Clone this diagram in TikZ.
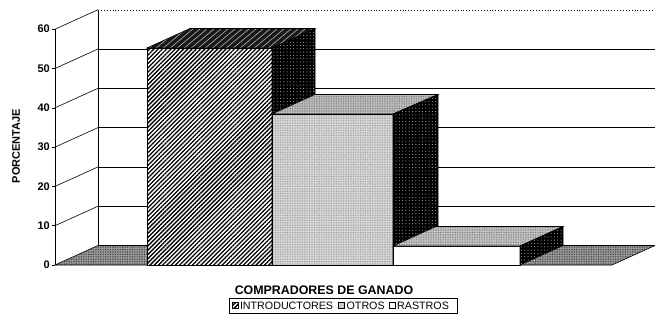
\documentclass[tikz,border=0pt]{standalone}
\usepackage{fontspec}
\setmainfont{Liberation Sans}
\usetikzlibrary{patterns,patterns.meta,positioning}

\tikzset{
  face/.style={draw=black, line width=0.6pt},
  hatch/.style={pattern={Lines[angle=45,distance=3pt,line width=1.3pt]}, pattern color=black},
  tophatch/.style={pattern={Lines[angle=40,distance=4.5pt,line width=0.6pt]}, pattern color=gray!55},
  stipple/.style={pattern={Dots[distance=1.7pt,radius=0.45pt]}, pattern color=#1},
  speck/.style={pattern={Dots[distance=3.3pt,radius=0.5pt]}, pattern color=gray!50},
  ticklab/.style={font=\fontsize{11}{11}\selectfont\bfseries, anchor=east, inner sep=1pt},
  legtext/.style={font=\fontsize{10.7}{10.7}\selectfont, inner sep=1pt, anchor=west},
  legmark/.style={face, minimum size=6pt, inner sep=0pt},
}

\begin{document}
\begin{tikzpicture}[x=1pt,y=-1pt]
  \useasboundingbox (0,0) rectangle (655,326);
  % floor
  \draw[face, preaction={fill=gray!75}, preaction={stipple=black!90}]
    (55,265) -- (612,265) -- (655,245.5) -- (98,245.5) -- cycle;
  % walls and grid
  \draw[line width=0.6pt] (98,10) -- (98,245.5);
  \draw[line width=0.6pt] (55,29.2) -- (55,265);
  \draw[dotted, line width=0.9pt] (98,10) -- (655,10);
  \foreach \v in {10,20,...,50}
    \draw[line width=0.8pt] (98,245.5-3.93*\v) -- (655,245.5-3.93*\v);
  \foreach \v in {10,20,...,60}
    \draw[line width=0.6pt] (55,265-3.93*\v) -- (98,245.5-3.93*\v);
  \foreach \v in {0,10,...,60} {
    \draw[line width=0.6pt] (52,265-3.93*\v) -- (55,265-3.93*\v);
    \node[ticklab] (t\v) at (51,265-3.93*\v) {\v};
  }
  % bar 1
  \draw[face, preaction={fill=white}, preaction={hatch}] (147,48) rectangle (272,265);
  \draw[face, preaction={fill=black!90}, preaction={tophatch}]
    (147,48) -- (190,28.5) -- (315,28.5) -- (272,48) -- cycle;
  \draw[face, preaction={fill=black}, preaction={speck}]
    (272,48) -- (315,28.5) -- (315,245.5) -- (272,265) -- cycle;
  % bar 2
  \draw[face, preaction={fill=gray!30}, preaction={stipple=black!45}] (272,114) rectangle (393,265);
  \draw[face, preaction={fill=gray!50}, preaction={stipple=black!60}]
    (272,114) -- (315,94.5) -- (438,94.5) -- (393,114) -- cycle;
  \draw[face, preaction={fill=black}, preaction={speck}]
    (393,114) -- (438,94.5) -- (438,245.5) -- (393,265) -- cycle;
  % bar 3
  \draw[face, fill=white] (393,246) rectangle (520,265);
  \draw[face, preaction={fill=gray!45}, preaction={stipple=black!60}]
    (393,246) -- (436,226.5) -- (563,226.5) -- (520,246) -- cycle;
  \draw[face, preaction={fill=black}, preaction={speck}]
    (520,246) -- (563,226.5) -- (563,245.5) -- (520,265) -- cycle;
  % titles
  \node[rotate=90, font=\fontsize{11}{11}\selectfont\bfseries] (ytitle) at (16,146) {PORCENTAJE};
  \node[font=\fontsize{12.4}{12.4}\selectfont\bfseries] (xtitle) at (324,290) {COMPRADORES DE GANADO};
  % legend
  \node[face, minimum width=228pt, minimum height=15pt, inner sep=0pt] (legend) at (343,305.5) {};
  \node[legmark, preaction={fill=white}, preaction={hatch}] (m1) at (235,305.5) {};
  \node[legtext, right=0.5pt of m1] (l1) {INTRODUCTORES};
  \node[legmark, preaction={fill=gray!30}, preaction={stipple=black!45}, right=4pt of l1] (m2) {};
  \node[legtext, right=0.5pt of m2] (l2) {OTROS};
  \node[legmark, fill=white, right=3pt of l2] (m3) {};
  \node[legtext, right=0.5pt of m3] (l3) {RASTROS};
\end{tikzpicture}
\end{document}
